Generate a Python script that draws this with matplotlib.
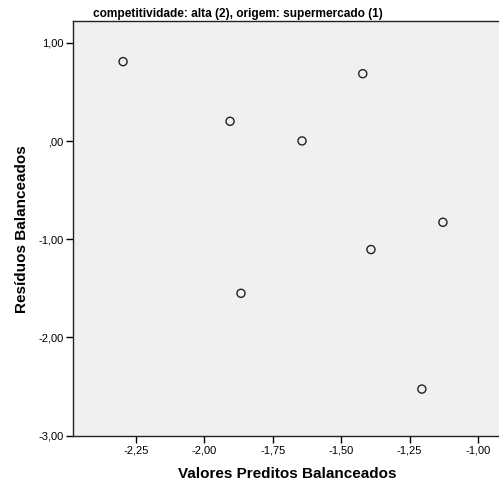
import matplotlib

matplotlib.use("Agg")
import matplotlib.pyplot as plt

plt.rcParams["font.family"] = ["Liberation Sans", "DejaVu Sans"]

# predicted vs residual values, balanced
predicted = [-2.297, -1.906, -1.866, -1.643, -1.421, -1.391, -1.205, -1.128]
residuals = [0.810, 0.202, -1.551, 0.002, 0.687, -1.105, -2.527, -0.827]

x_ticks = [-2.25, -2.00, -1.75, -1.50, -1.25, -1.00]
y_ticks = [1.00, 0.00, -1.00, -2.00, -3.00]


def fmt(v):
    s = f"{v:.2f}".replace(".", ",")
    if s.startswith("0,"):
        s = s[1:]
    return s


W, H = 499, 486
fig = plt.figure(figsize=(W / 100, H / 100), dpi=100)
ax = fig.add_axes([73 / W, (H - 435.5) / H, 1 - 73 / W, (435.5 - 21) / H])
ax.set_facecolor("#f0f0f0")

ax.scatter(predicted, residuals, s=34, facecolors="none", edgecolors="#222222", linewidths=1.0, zorder=3)

ax.set_xlim(-2.480, -0.923)
ax.set_ylim(-3.0, 1.224)
ax.set_xticks(x_ticks)
ax.set_xticklabels([fmt(v) for v in x_ticks])
ax.set_yticks(y_ticks)
ax.set_yticklabels([fmt(v) for v in y_ticks])
ax.tick_params(axis="both", length=5, width=1, labelsize=8, color="black", pad=2)

for side in ("left", "bottom", "top"):
    ax.spines[side].set_linewidth(1.0)
    ax.spines[side].set_color("#222222")
ax.spines["right"].set_visible(False)

fig.text(238 / W, 1 - 14 / H, "competitividade: alta (2), origem: supermercado (1)",
         ha="center", va="center", fontsize=8.6, fontweight="bold")
fig.text(287 / W, 1 - 474 / H, "Valores Preditos Balanceados",
         ha="center", va="center", fontsize=11, fontweight="bold")
fig.text(22 / W, 1 - 229 / H, "Resíduos Balanceados", rotation=90,
         ha="center", va="center", fontsize=11, fontweight="bold")

fig.savefig("out.png", dpi=100)
